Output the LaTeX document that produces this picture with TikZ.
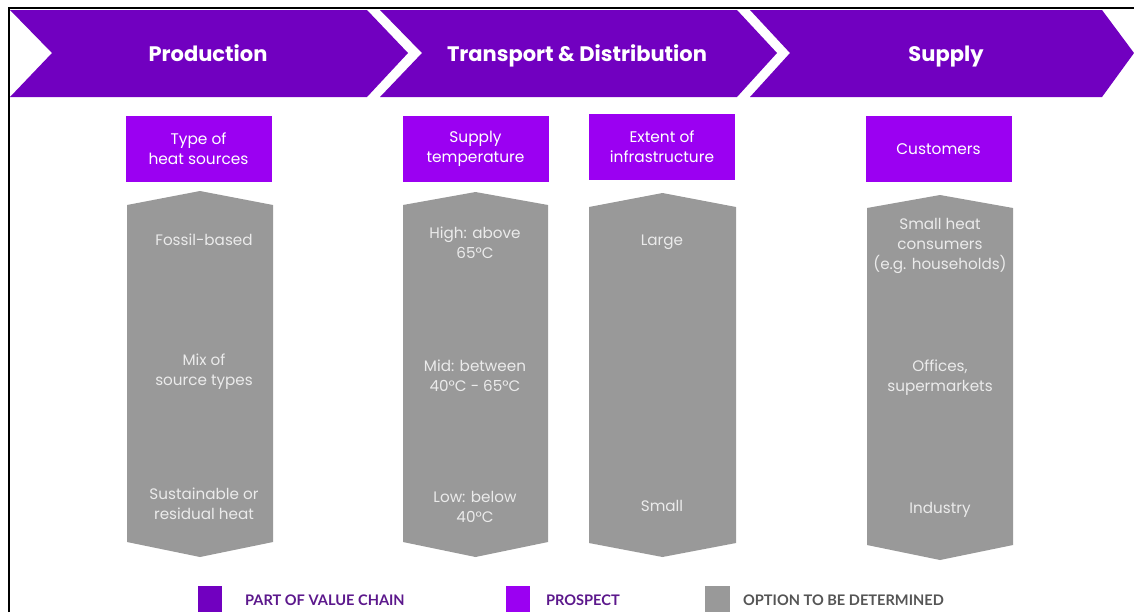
\documentclass[tikz,border=0pt]{standalone}
\usepackage{fontspec}
\setmainfont{Poppins}
\newfontfamily\legendfont{Lato}
\definecolor{chainpurple}{RGB}{113,0,192}
\definecolor{prospectpurple}{RGB}{155,0,242}
\definecolor{optiongray}{RGB}{153,153,153}
\definecolor{legendpurple}{RGB}{92,24,140}
\definecolor{legendgray}{RGB}{85,85,85}

\begin{document}
\begin{tikzpicture}[x=0.5pt,y=-0.5pt,
		stage/.style={anchor=base,text=white,font=\bfseries\fontsize{10.5}{12}\selectfont},
		prospect/.style={fill=prospectpurple,text=white,minimum width=73pt,minimum height=33pt,align=center,inner sep=0pt,font=\fontsize{7.7}{10}\selectfont},
		optiontext/.style={text=white!92!black,align=center,font=\fontsize{7.6}{10}\selectfont},
		legendtext/.style={anchor=west,font=\legendfont\bfseries\fontsize{7.3}{8}\selectfont}]
		\useasboundingbox (0,0) rectangle (1134,612);
		% frame
		\draw [line width=1pt] (9,612) -- (9,8) -- (1134,8);
		% value chain
		\fill [chainpurple] (10,10) -- (367,10) -- (408,53) -- (367,97) -- (10,97) -- (52,53) -- cycle;
		\fill [chainpurple] (380,10) -- (737,10) -- (777,53) -- (737,97) -- (380,97) -- (422,53) -- cycle;
		\fill [chainpurple] (750,10) -- (1102,10) -- (1134,53) -- (1102,97) -- (750,97) -- (790,53) -- cycle;
		\node[stage](production) at (208,61) {Production};
		\node[stage](transport) at (577,61) {Transport \& Distribution};
		\node[stage](supply) at (946,61) {Supply};
		% prospects
		\node[prospect](heatsources) at (198.5,149) {Type of\\heat sources};
		\node[prospect](temperature) at (475.5,149) {Supply\\temperature};
		\node[prospect](infrastructure) at (662,146.5) {Extent of\\infrastructure};
		\node[prospect](customers) at (938.5,149) {Customers};
		% options
		\fill [optiongray] (127,205) -- (200,191) -- (273,205) -- (273,542) -- (200,557) -- (127,542) -- cycle;
		\fill [optiongray] (403,205) -- (475.5,192) -- (548,205) -- (548,542) -- (475.5,557) -- (403,542) -- cycle;
		\fill [optiongray] (589,207) -- (662.5,193) -- (736,207) -- (736,543) -- (662.5,557) -- (589,543) -- cycle;
		\fill [optiongray] (867,208) -- (940,195) -- (1013,208) -- (1013,545) -- (940,560) -- (867,545) -- cycle;
		\node[optiontext](fossil) at (204,240) {Fossil-based};
		\node[optiontext](mix) at (204,372) {Mix of\\source types};
		\node[optiontext](sustainable) at (204,504) {Sustainable or\\residual heat};
		\node[optiontext](high) at (475,243) {High: above\\65°C};
		\node[optiontext](mid) at (475,376) {Mid: between\\40°C - 65°C};
		\node[optiontext](low) at (475,507) {Low: below\\40°C};
		\node[optiontext](large) at (662,242) {Large};
		\node[optiontext](small) at (662,506) {Small};
		\node[optiontext](households) at (940,246) {Small heat\\consumers\\(e.g. households)};
		\node[optiontext](offices) at (940,378) {Offices,\\supermarkets};
		\node[optiontext](industry) at (940,510) {Industry};
		% legend
		\fill [chainpurple] (198,586) rectangle (222,612);
		\fill [prospectpurple] (506,586) rectangle (530,612);
		\fill [optiongray] (705,586) rectangle (730,612);
		\node[legendtext,text=legendpurple](chainkey) at (238,600) {PART OF VALUE CHAIN};
		\node[legendtext,text=legendpurple](prospectkey) at (539,600) {PROSPECT};
		\node[legendtext,text=legendgray](optionkey) at (736,600) {OPTION TO BE DETERMINED};
	\end{tikzpicture}
\end{document}
